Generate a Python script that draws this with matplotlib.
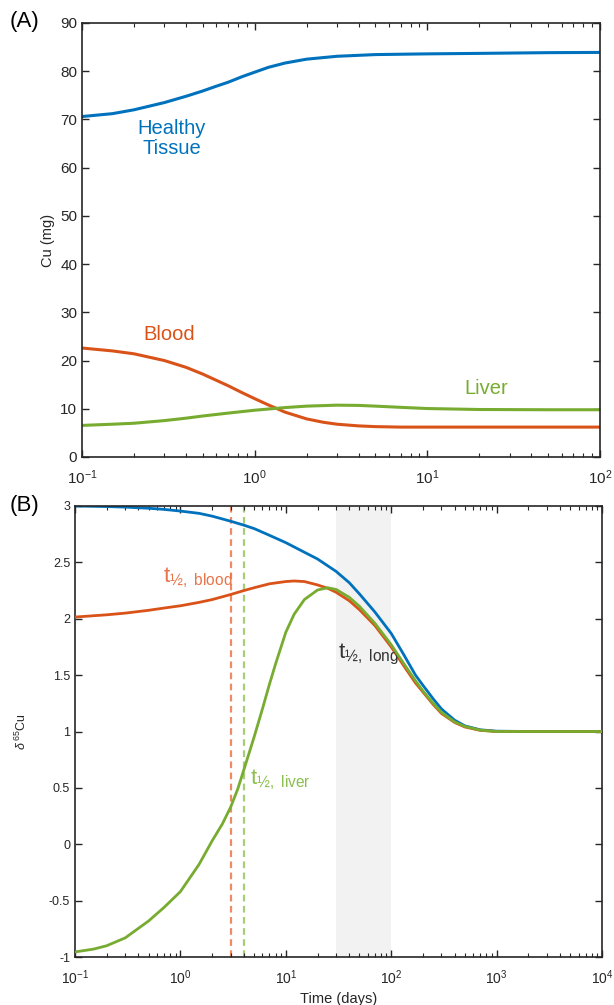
import matplotlib
matplotlib.use("Agg")
import matplotlib.pyplot as plt
from matplotlib.ticker import FixedLocator, FuncFormatter, LogLocator

plt.rcParams['font.family'] = ['Liberation Sans', 'DejaVu Sans']
plt.rcParams['mathtext.fontset'] = 'custom'
plt.rcParams['mathtext.rm'] = 'Liberation Sans'
plt.rcParams['mathtext.it'] = 'Liberation Sans:italic'
plt.rcParams['axes.unicode_minus'] = False

# ---------------- Panel A data ----------------
time_a_tissue = [0.1, 0.15, 0.2, 0.3, 0.4, 0.5, 0.6, 0.7, 0.85, 1, 1.2, 1.5, 2, 3,
                 5, 10, 20, 50, 100]
tissue_a = [70.6, 71.2, 72.0, 73.5, 74.8, 75.9, 76.9, 77.7, 78.9, 79.8, 80.8,
            81.7, 82.5, 83.1, 83.45, 83.6, 83.7, 83.85, 83.9]
time_a_blood = [0.1, 0.15, 0.2, 0.3, 0.4, 0.5, 0.6, 0.7, 0.85, 1, 1.2, 1.5, 2,
                2.5, 3, 4, 5, 7, 10, 100]
blood_a = [22.6, 22.0, 21.4, 20.0, 18.6, 17.2, 15.9, 14.8, 13.3, 12.1, 10.8,
           9.3, 7.9, 7.2, 6.8, 6.45, 6.3, 6.2, 6.2, 6.2]
time_a_liver = [0.1, 0.15, 0.2, 0.3, 0.4, 0.5, 0.7, 1, 1.5, 2, 3, 4, 5, 7, 10,
                20, 50, 100]
liver_a = [6.55, 6.8, 7.0, 7.55, 8.05, 8.5, 9.1, 9.7, 10.25, 10.55, 10.75,
           10.7, 10.55, 10.3, 10.05, 9.85, 9.8, 9.8]
yticks_a = [0, 10, 20, 30, 40, 50, 60, 70, 80, 90]

# ---------------- Panel B data ----------------
time_b_tissue = [0.1, 0.2, 0.3, 0.5, 0.7, 1, 1.5, 2, 3, 4, 5, 7, 10, 15, 20, 30,
                 40, 50, 70, 100, 130, 170, 200, 250, 300, 400, 500, 700, 1000,
                 2000, 10000]
tissue_b = [3.0, 2.995, 2.99, 2.98, 2.97, 2.955, 2.935, 2.91, 2.865, 2.83, 2.80,
            2.74, 2.675, 2.59, 2.53, 2.42, 2.32, 2.22, 2.06, 1.87, 1.69, 1.50,
            1.41, 1.29, 1.20, 1.10, 1.05, 1.015, 1.003, 1.0, 1.0]
time_b_blood = [0.1, 0.2, 0.3, 0.5, 0.7, 1, 1.5, 2, 3, 4, 5, 7, 10, 12, 15, 20,
                25, 30, 40, 50, 70, 100, 130, 170, 200, 250, 300, 400, 500, 700,
                1000, 10000]
blood_b = [2.015, 2.035, 2.05, 2.075, 2.095, 2.115, 2.145, 2.17, 2.215, 2.25,
           2.275, 2.31, 2.33, 2.335, 2.33, 2.30, 2.27, 2.235, 2.16, 2.08, 1.94,
           1.75, 1.59, 1.43, 1.35, 1.24, 1.16, 1.08, 1.04, 1.01, 1.0, 1.0]
time_b_liver = [0.1, 0.15, 0.2, 0.3, 0.5, 0.7, 1, 1.5, 2, 2.5, 3, 3.5, 4, 5, 6,
                7, 8, 10, 12, 15, 20, 25, 30, 40, 50, 70, 100, 130, 170, 200,
                250, 300, 400, 500, 700, 1000, 10000]
liver_b = [-0.955, -0.93, -0.9, -0.83, -0.68, -0.56, -0.42, -0.18, 0.03, 0.18,
           0.33, 0.49, 0.66, 0.95, 1.2, 1.42, 1.6, 1.88, 2.04, 2.17, 2.255,
           2.275, 2.26, 2.19, 2.11, 1.96, 1.77, 1.61, 1.45, 1.36, 1.25, 1.17,
           1.085, 1.045, 1.012, 1.0, 1.0]
yticks_b = [-1, -0.5, 0, 0.5, 1, 1.5, 2, 2.5, 3]
t_half_blood = 3.0
t_half_liver = 4.0
long_span = (30, 100)

BLUE = '#0072BD'
ORANGE = '#D95319'
GREEN = '#77AC30'
DARK = '#262626'

fig = plt.figure(figsize=(6.14, 10.05), dpi=100)
axA = fig.add_axes([82/614, 1-457/1005, (600-82)/614, (457-23)/1005])
axB = fig.add_axes([75/614, 1-957/1005, (602-75)/614, (957-506)/1005])


def style(ax, fs):
    ax.set_xscale('log')
    for s in ax.spines.values():
        s.set_color(DARK)
        s.set_linewidth(1.2)
    ax.tick_params(which='both', direction='in', top=True, right=True,
                   colors=DARK, labelcolor=DARK, labelsize=fs)
    ax.tick_params(which='major', length=5, width=1)
    ax.tick_params(which='minor', length=3, width=0.8)
    ax.xaxis.set_minor_locator(LogLocator(base=10, subs=range(2, 10), numticks=20))


# Panel A
style(axA, 11)
axA.plot(time_a_tissue, tissue_a, color=BLUE, lw=2.2)
axA.plot(time_a_blood, blood_a, color=ORANGE, lw=2.2)
axA.plot(time_a_liver, liver_a, color=GREEN, lw=2.2)
axA.set_xlim(0.1, 100)
axA.set_ylim(0, 90)
axA.yaxis.set_major_locator(FixedLocator(yticks_a))
axA.tick_params(axis='x', pad=8)
axA.set_ylabel('Cu (mg)', fontsize=10.5, color=DARK)
axA.text(0.33, 66, 'Healthy\nTissue', color=BLUE, fontsize=14.5,
         ha='center', va='center', linespacing=1.1)
axA.text(0.32, 25.5, 'Blood', color=ORANGE, fontsize=14.5, ha='center', va='center')
axA.text(22, 14.2, 'Liver', color=GREEN, fontsize=14.5, ha='center', va='center')
fig.text(10/614, 1-22/1005, '(A)', fontsize=16, color='black', va='center', ha='left')

# Panel B
style(axB, 9)
axB.axvspan(long_span[0], long_span[1], color='#f2f2f2', lw=0, zorder=0)
axB.axvline(t_half_blood, color='#EE8A66', lw=1.6, ls=(0, (3, 2)), zorder=1)
axB.axvline(t_half_liver, color='#A6CE78', lw=1.6, ls=(0, (3, 2)), zorder=1)
axB.plot(time_b_blood, blood_b, color=ORANGE, lw=2.0, zorder=3)
axB.plot(time_b_liver, liver_b, color=GREEN, lw=2.0, zorder=4)
axB.plot(time_b_tissue, tissue_b, color=BLUE, lw=2.0, zorder=2)
axB.set_xlim(0.1, 10000)
axB.set_ylim(-1, 3)
axB.yaxis.set_major_locator(FixedLocator(yticks_b))
axB.yaxis.set_major_formatter(FuncFormatter(lambda v, p: f'{v:g}'))
axB.tick_params(axis='x', labelsize=10, pad=8)
axB.set_xlabel('Time (days)', fontsize=10.5, color=DARK)
axB.set_ylabel(r'$\it{\delta}$$^{\ 65}$Cu', fontsize=9, color=DARK, labelpad=14)

axB.text(0.68, 2.36, r'$\mathrm{t}_{\mathrm{½,\ blood}}$', color='#E8744A',
         fontsize=16, ha='left', va='center')
axB.text(4.6, 0.57, r'$\mathrm{t}_{\mathrm{½,\ liver}}$', color='#8CBF4F',
         fontsize=16, ha='left', va='center')
axB.text(31, 1.68, r'$\mathrm{t}_{\mathrm{½,\ long}}$', color='#333333',
         fontsize=16, ha='left', va='center')
fig.text(10/614, 1-505/1005, '(B)', fontsize=16, color='black', va='center', ha='left')

fig.savefig('out.png', dpi=100)
